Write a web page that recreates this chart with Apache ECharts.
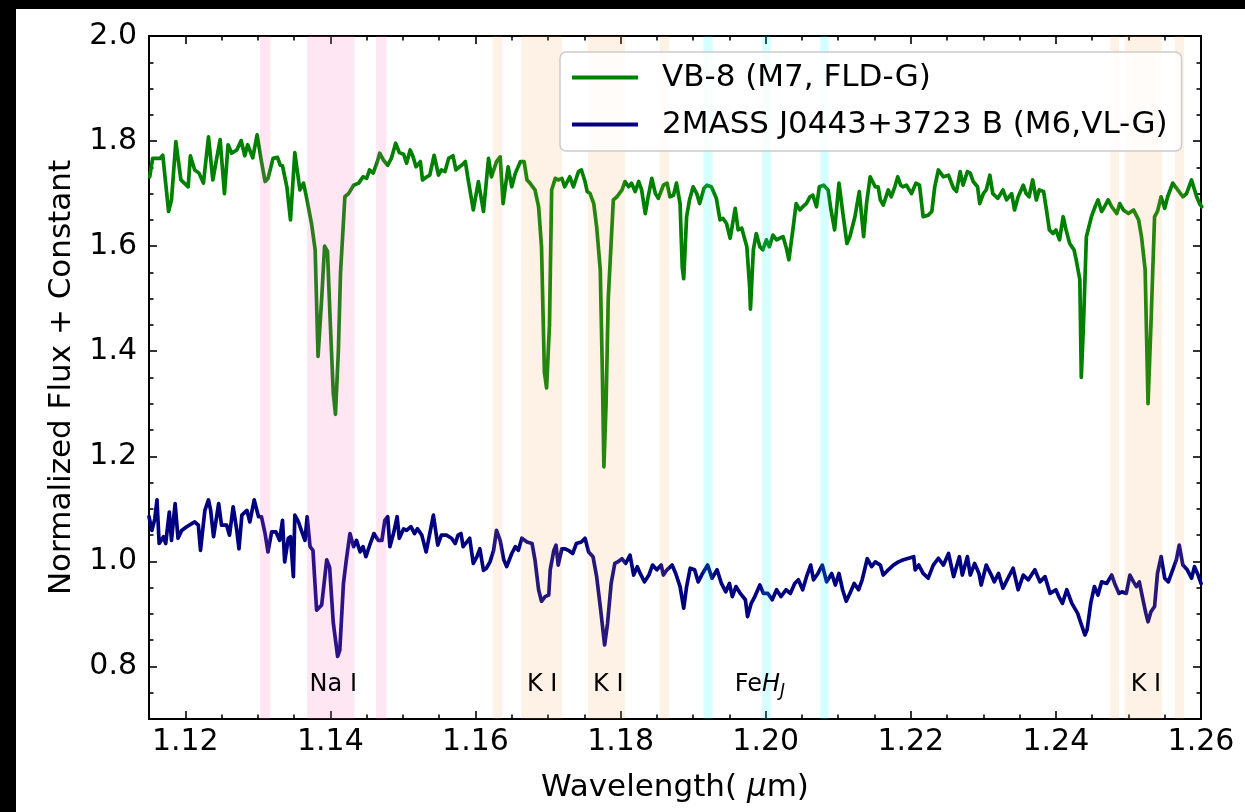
<!DOCTYPE html>
<html><head><meta charset="utf-8">
<script src="https://cdn.jsdelivr.net/npm/echarts@6/dist/echarts.min.js"></script>
<style>
html,body{margin:0;padding:0;background:#000;width:1245px;height:812px;overflow:hidden}
#chart{position:absolute;left:16px;top:9px;width:1229px;height:803px;background:#fff}
</style></head><body><div id="chart"></div>
<script>
// ---- data ----
const seriesNames = ['VB-8 (M7, FLD-G)', '2MASS J0443+3723 B (M6,VL-G)'];
const wlGreen = [1.1151,1.1155,1.1165,1.1169,1.1177,1.1181,1.1187,1.1194,1.1204,1.1207,1.1213,1.1219,1.1225,1.1232,1.1238,1.1248,1.1254,1.1259,1.1264,1.1271,1.1277,1.1282,1.1286,1.1293,1.1299,1.1305,1.1310,1.1314,1.1321,1.1327,1.1331,1.1334,1.1340,1.1345,1.1351,1.1358,1.1363,1.1367,1.1374,1.1379,1.1383,1.1388,1.1392,1.1396,1.1400,1.1404,1.1407,1.1411,1.1414,1.1420,1.1425,1.1432,1.1439,1.1445,1.1450,1.1454,1.1459,1.1464,1.1468,1.1473,1.1479,1.1484,1.1490,1.1495,1.1501,1.1505,1.1510,1.1514,1.1518,1.1524,1.1527,1.1533,1.1537,1.1543,1.1549,1.1553,1.1558,1.1563,1.1569,1.1573,1.1578,1.1581,1.1586,1.1590,1.1597,1.1604,1.1611,1.1618,1.1622,1.1629,1.1634,1.1638,1.1645,1.1650,1.1655,1.1662,1.1667,1.1671,1.1675,1.1682,1.1687,1.1691,1.1695,1.1698,1.1702,1.1705,1.1710,1.1714,1.1719,1.1723,1.1730,1.1735,1.1742,1.1746,1.1751,1.1754,1.1758,1.1763,1.1767,1.1772,1.1775,1.1777,1.1780,1.1783,1.1790,1.1795,1.1802,1.1806,1.1811,1.1815,1.1820,1.1825,1.1829,1.1834,1.1838,1.1843,1.1848,1.1852,1.1859,1.1864,1.1868,1.1873,1.1877,1.1882,1.1885,1.1887,1.1891,1.1895,1.1900,1.1905,1.1909,1.1915,1.1919,1.1925,1.1932,1.1937,1.1941,1.1946,1.1951,1.1958,1.1962,1.1967,1.1974,1.1978,1.1979,1.1983,1.1987,1.1992,1.1996,1.2001,1.2005,1.2010,1.2015,1.2019,1.2024,1.2028,1.2032,1.2038,1.2042,1.2047,1.2051,1.2056,1.2061,1.2065,1.2070,1.2074,1.2080,1.2086,1.2090,1.2095,1.2101,1.2107,1.2112,1.2116,1.2123,1.2129,1.2135,1.2139,1.2144,1.2151,1.2155,1.2158,1.2162,1.2169,1.2173,1.2178,1.2182,1.2186,1.2189,1.2194,1.2201,1.2207,1.2212,1.2217,1.2224,1.2229,1.2233,1.2238,1.2245,1.2252,1.2259,1.2263,1.2268,1.2272,1.2278,1.2282,1.2286,1.2292,1.2295,1.2300,1.2304,1.2309,1.2313,1.2320,1.2327,1.2332,1.2339,1.2343,1.2348,1.2355,1.2359,1.2363,1.2368,1.2373,1.2377,1.2383,1.2387,1.2391,1.2396,1.2400,1.2405,1.2410,1.2414,1.2419,1.2425,1.2428,1.2433,1.2435,1.2438,1.2442,1.2449,1.2454,1.2458,1.2463,1.2467,1.2472,1.2477,1.2484,1.2488,1.2493,1.2500,1.2507,1.2514,1.2518,1.2523,1.2527,1.2531,1.2536,1.2540,1.2545,1.2550,1.2554,1.2561,1.2568,1.2575,1.2580,1.2587,1.2594,1.2598,1.2601];
const fluxGreen = [1.732,1.767,1.767,1.773,1.666,1.688,1.799,1.726,1.713,1.772,1.745,1.739,1.720,1.808,1.726,1.803,1.700,1.793,1.777,1.783,1.801,1.772,1.793,1.768,1.812,1.761,1.723,1.729,1.767,1.769,1.754,1.753,1.713,1.650,1.778,1.707,1.720,1.694,1.643,1.593,1.390,1.500,1.600,1.590,1.450,1.320,1.280,1.400,1.550,1.694,1.700,1.716,1.720,1.732,1.729,1.745,1.739,1.758,1.777,1.764,1.754,1.767,1.796,1.778,1.775,1.758,1.783,1.770,1.751,1.761,1.726,1.732,1.735,1.773,1.735,1.745,1.742,1.767,1.772,1.745,1.751,1.754,1.761,1.726,1.669,1.723,1.666,1.767,1.732,1.761,1.770,1.681,1.751,1.713,1.739,1.761,1.761,1.726,1.720,1.707,1.675,1.599,1.360,1.330,1.450,1.707,1.729,1.726,1.729,1.713,1.732,1.713,1.742,1.745,1.723,1.704,1.700,1.681,1.637,1.555,1.350,1.180,1.300,1.500,1.688,1.694,1.707,1.723,1.713,1.720,1.704,1.723,1.707,1.662,1.694,1.729,1.700,1.691,1.716,1.720,1.694,1.697,1.720,1.681,1.560,1.538,1.656,1.688,1.713,1.700,1.681,1.710,1.716,1.713,1.691,1.650,1.653,1.643,1.615,1.672,1.631,1.634,1.599,1.520,1.480,1.593,1.624,1.599,1.593,1.612,1.599,1.621,1.612,1.615,1.618,1.599,1.574,1.637,1.681,1.669,1.675,1.681,1.694,1.697,1.675,1.713,1.716,1.707,1.669,1.631,1.720,1.656,1.605,1.618,1.656,1.704,1.618,1.681,1.732,1.713,1.713,1.688,1.678,1.707,1.694,1.713,1.732,1.716,1.713,1.716,1.700,1.720,1.716,1.656,1.659,1.666,1.713,1.745,1.732,1.735,1.710,1.704,1.742,1.716,1.742,1.739,1.723,1.713,1.681,1.700,1.707,1.735,1.700,1.691,1.707,1.688,1.700,1.669,1.694,1.716,1.700,1.694,1.726,1.688,1.707,1.704,1.669,1.631,1.624,1.631,1.612,1.656,1.631,1.605,1.593,1.574,1.536,1.350,1.450,1.618,1.656,1.675,1.688,1.666,1.675,1.688,1.675,1.662,1.681,1.669,1.662,1.669,1.650,1.618,1.555,1.300,1.450,1.656,1.666,1.694,1.672,1.694,1.720,1.707,1.694,1.700,1.726,1.694,1.681,1.675];
const wlBlue = [1.1150,1.1154,1.1158,1.1161,1.1164,1.1170,1.1173,1.1178,1.1181,1.1186,1.1190,1.1195,1.1202,1.1209,1.1213,1.1218,1.1221,1.1227,1.1232,1.1235,1.1239,1.1246,1.1250,1.1257,1.1261,1.1266,1.1271,1.1274,1.1278,1.1285,1.1289,1.1295,1.1301,1.1305,1.1310,1.1314,1.1319,1.1325,1.1330,1.1334,1.1337,1.1342,1.1345,1.1349,1.1351,1.1356,1.1360,1.1365,1.1368,1.1372,1.1376,1.1381,1.1388,1.1395,1.1399,1.1404,1.1410,1.1413,1.1418,1.1422,1.1427,1.1432,1.1436,1.1441,1.1445,1.1449,1.1455,1.1460,1.1466,1.1471,1.1475,1.1479,1.1482,1.1487,1.1492,1.1495,1.1501,1.1505,1.1511,1.1516,1.1520,1.1526,1.1532,1.1537,1.1542,1.1548,1.1553,1.1560,1.1567,1.1572,1.1576,1.1580,1.1583,1.1592,1.1597,1.1602,1.1606,1.1611,1.1615,1.1620,1.1625,1.1629,1.1634,1.1639,1.1643,1.1650,1.1655,1.1659,1.1664,1.1671,1.1678,1.1682,1.1687,1.1691,1.1696,1.1701,1.1703,1.1708,1.1711,1.1714,1.1719,1.1723,1.1728,1.1734,1.1739,1.1746,1.1751,1.1756,1.1762,1.1767,1.1772,1.1778,1.1782,1.1787,1.1792,1.1796,1.1802,1.1807,1.1813,1.1818,1.1823,1.1827,1.1833,1.1839,1.1844,1.1850,1.1856,1.1859,1.1864,1.1871,1.1876,1.1882,1.1887,1.1891,1.1896,1.1902,1.1907,1.1913,1.1920,1.1926,1.1933,1.1939,1.1945,1.1950,1.1954,1.1959,1.1965,1.1972,1.1975,1.1980,1.1985,1.1992,1.1997,1.2003,1.2009,1.2015,1.2021,1.2028,1.2034,1.2040,1.2045,1.2051,1.2057,1.2062,1.2066,1.2072,1.2078,1.2084,1.2091,1.2096,1.2101,1.2106,1.2111,1.2116,1.2122,1.2128,1.2133,1.2140,1.2146,1.2151,1.2158,1.2162,1.2169,1.2176,1.2183,1.2190,1.2197,1.2204,1.2206,1.2211,1.2217,1.2224,1.2231,1.2238,1.2245,1.2252,1.2259,1.2267,1.2271,1.2278,1.2282,1.2288,1.2294,1.2297,1.2304,1.2311,1.2315,1.2321,1.2327,1.2334,1.2341,1.2348,1.2355,1.2362,1.2371,1.2378,1.2385,1.2392,1.2400,1.2404,1.2409,1.2415,1.2422,1.2430,1.2436,1.2440,1.2443,1.2448,1.2453,1.2458,1.2463,1.2470,1.2477,1.2481,1.2487,1.2491,1.2497,1.2502,1.2507,1.2511,1.2515,1.2520,1.2524,1.2527,1.2531,1.2536,1.2540,1.2545,1.2550,1.2555,1.2561,1.2566,1.2570,1.2575,1.2581,1.2587,1.2591,1.2596,1.2600];
const fluxBlue = [1.085,1.059,1.081,1.117,1.034,1.047,1.034,1.094,1.040,1.110,1.044,1.059,1.066,1.072,1.075,1.069,1.021,1.097,1.117,1.097,1.047,1.110,1.069,1.069,1.050,1.104,1.059,1.024,1.088,1.097,1.075,1.117,1.085,1.085,1.053,1.018,1.056,1.056,1.040,1.078,0.999,1.044,1.047,0.971,1.088,1.075,1.059,1.040,1.085,1.028,1.021,0.907,0.917,1.003,0.988,0.883,0.819,0.831,0.958,1.003,1.053,1.028,1.040,1.018,1.028,1.009,1.034,1.053,1.040,1.040,1.078,1.085,1.028,1.053,1.085,1.044,1.062,1.059,1.066,1.053,1.062,1.050,1.018,1.053,1.088,1.031,1.050,1.050,1.044,1.034,1.050,1.053,1.028,1.044,0.996,1.009,1.024,0.983,0.987,0.999,1.021,1.059,1.040,1.003,0.990,1.015,1.028,1.021,1.044,1.037,1.034,1.003,0.946,0.924,0.933,0.936,0.984,1.021,1.031,0.993,1.024,1.024,1.021,1.015,1.034,1.037,1.044,1.018,1.009,0.971,0.914,0.841,0.882,0.958,0.996,0.999,1.005,0.996,1.012,0.974,0.990,0.977,0.961,0.974,0.993,0.984,0.993,0.974,0.984,0.993,0.977,0.952,0.911,0.952,0.987,0.984,0.961,0.977,0.993,0.968,0.984,0.958,0.942,0.958,0.933,0.952,0.939,0.927,0.895,0.920,0.933,0.955,0.939,0.939,0.927,0.946,0.933,0.946,0.939,0.958,0.965,0.946,0.974,0.993,0.965,0.977,0.993,0.961,0.977,0.955,0.977,0.946,0.924,0.939,0.958,0.946,0.965,1.005,0.990,0.999,0.993,0.974,0.984,0.993,0.999,1.003,1.006,1.009,0.984,0.993,0.977,0.968,0.993,1.006,0.993,1.015,0.971,1.009,0.974,1.009,0.974,0.996,0.977,0.955,0.993,0.974,0.961,0.977,0.949,0.968,0.987,0.946,0.974,0.965,0.984,0.961,0.971,0.939,0.946,0.933,0.920,0.946,0.920,0.901,0.876,0.860,0.870,0.920,0.952,0.936,0.961,0.958,0.974,0.958,0.939,0.942,0.939,0.974,0.961,0.952,0.961,0.927,0.901,0.885,0.904,0.914,0.977,1.009,0.968,0.961,0.984,1.003,1.031,0.993,0.984,0.968,0.990,0.974,0.958];
// shaded wavelength windows [start, end]
const naBands = [[1.1303,1.1317],[1.1368,1.1433],[1.1463,1.1477]];
const kBands = [[1.1624,1.1637],[1.1663,1.1719],[1.1755,1.1806],[1.1854,1.1867],[1.2475,1.2487],[1.2495,1.2546],[1.2564,1.2577]];
const fehBands = [[1.1914,1.1927],[1.1995,1.2007],[1.2075,1.2087]];
// feature labels
const featureText = ['Na I','K I','K I','Fe{h|H}{j|J}','K I'];
const featureWl = [1.1404,1.1692,1.1783,1.1992,1.2524];
const featureY = [0.765,0.765,0.765,0.765,0.765];
// axes
const xMajor = [1.12,1.14,1.16,1.18,1.20,1.22,1.24,1.26];
const xMinor = [1.125,1.13,1.135,1.145,1.15,1.155,1.165,1.17,1.175,1.185,1.19,1.195,1.205,1.21,1.215,1.225,1.23,1.235,1.245,1.25,1.255];
const yMajor = [0.8,1.0,1.2,1.4,1.6,1.8,2.0];
const yMinor = [0.75,0.85,0.9,0.95,1.05,1.1,1.15,1.25,1.3,1.35,1.45,1.5,1.55,1.65,1.7,1.75,1.85,1.9,1.95];
const X_MIN = 1.115, X_MAX = 1.26, Y_MIN = 0.7, Y_MAX = 2.0;

// ---- chart ----
const FONT = "'DejaVu Sans', sans-serif";
const zip = (a, b) => a.map((v, i) => [v, b[i]]);
const tickLine = {color: '#000', width: 1.6};

function xAxisDef(pos, ticks, len, opts) {
  return Object.assign({
    type: 'value', position: pos, min: X_MIN, max: X_MAX,
    axisLine: {show: false, onZero: false},
    axisTick: {show: true, inside: true, length: len, lineStyle: tickLine, customValues: ticks},
    axisLabel: {show: false},
    splitLine: {show: false}
  }, opts || {});
}
function yAxisDef(pos, ticks, len, opts) {
  return Object.assign({
    type: 'value', position: pos, min: Y_MIN, max: Y_MAX,
    axisLine: {show: false, onZero: false},
    axisTick: {show: true, inside: true, length: len, lineStyle: tickLine, customValues: ticks},
    axisLabel: {show: false},
    splitLine: {show: false}
  }, opts || {});
}
const frame = {show: true, onZero: false, lineStyle: {color: '#000', width: 2}};

function bandSeries(bands, color) {
  return {
    type: 'custom', data: bands, xAxisIndex: 0, yAxisIndex: 0, z: 3, silent: true, clip: true,
    renderItem: (params, api) => {
      const a = api.coord([api.value(0), Y_MAX]);
      const b = api.coord([api.value(1), Y_MIN]);
      return {type: 'rect', shape: {x: a[0], y: a[1], width: b[0] - a[0], height: b[1] - a[1]}, style: {fill: color}};
    }
  };
}

const chart = echarts.init(document.getElementById('chart'), null, {renderer: 'canvas'});
chart.setOption({
  animation: false,
  backgroundColor: '#fff',
  textStyle: {fontFamily: FONT},
  grid: {left: 133, right: 44, top: 27, bottom: 93, containLabel: false},
  legend: {
    data: seriesNames, orient: 'vertical', left: 544, top: 43,
    icon: 'rect', itemWidth: 66, itemHeight: 3.8, itemGap: 10,
    padding: [7, 14, 8, 12],
    backgroundColor: 'rgba(255,255,255,0.8)', borderColor: '#cccccc', borderWidth: 1.5, borderRadius: 6,
    textStyle: {fontSize: 31, color: '#000', fontFamily: FONT, lineHeight: 37, padding: [0, 0, 0, 19]}
  },
  xAxis: [
    xAxisDef('bottom', xMajor, 8, {
      axisLine: frame,
      axisLabel: {show: true, customValues: xMajor, formatter: v => v.toFixed(2), fontSize: 30, color: '#000', margin: 8, fontFamily: FONT},
      name: 'Wavelength( {mu|μ}m)', nameLocation: 'middle', nameGap: 53,
      nameTextStyle: {fontSize: 31, color: '#000', fontFamily: FONT, rich: {mu: {fontStyle: 'italic', fontSize: 31, color: '#000', fontFamily: FONT}}}
    }),
    xAxisDef('bottom', xMinor, 4.5),
    xAxisDef('top', xMajor, 8, {axisLine: frame}),
    xAxisDef('top', xMinor, 4.5)
  ],
  yAxis: [
    yAxisDef('left', yMajor, 8, {
      axisLine: frame,
      axisLabel: {show: true, customValues: yMajor, formatter: v => v.toFixed(1), fontSize: 30, color: '#000', margin: 12, fontFamily: FONT},
      name: 'Normalized Flux + Constant', nameLocation: 'middle', nameGap: 72,
      nameTextStyle: {fontSize: 31, color: '#000', fontFamily: FONT}
    }),
    yAxisDef('left', yMinor, 4.5),
    yAxisDef('right', yMajor, 8, {axisLine: frame}),
    yAxisDef('right', yMinor, 4.5)
  ],
  series: [
    {name: seriesNames[0], type: 'line', data: zip(wlGreen, fluxGreen), xAxisIndex: 0, yAxisIndex: 0,
     symbol: 'none', z: 2, itemStyle: {color: '#008000'}, lineStyle: {color: '#008000', width: 3.7, join: 'round', cap: 'round'}},
    {name: seriesNames[1], type: 'line', data: zip(wlBlue, fluxBlue), xAxisIndex: 0, yAxisIndex: 0,
     symbol: 'none', z: 2, itemStyle: {color: '#000080'}, lineStyle: {color: '#000080', width: 3.7, join: 'round', cap: 'round'}},
    bandSeries(naBands, 'rgba(255,105,180,0.17)'),
    bandSeries(kBands, 'rgba(245,160,80,0.15)'),
    bandSeries(fehBands, 'rgba(0,255,255,0.16)'),
    {
      type: 'custom', xAxisIndex: 0, yAxisIndex: 0, z: 4, silent: true, clip: false,
      data: featureWl.map((w, i) => [w, featureY[i], i]),
      renderItem: (params, api) => {
        const p = api.coord([api.value(0), api.value(1)]);
        const t = featureText[api.value(2)];
        return {type: 'text', x: p[0], y: p[1], style: {
          text: t, fill: '#000', fontSize: 24, fontFamily: FONT, align: 'center', verticalAlign: 'middle',
          rich: {h: {fontStyle: 'italic', fontSize: 24, fontFamily: FONT, fill: '#000'},
                 j: {fontStyle: 'italic', fontSize: 17, fontFamily: FONT, fill: '#000', padding: [14, 0, 0, 0]}}
        }};
      }
    }
  ]
});
</script></body></html>
